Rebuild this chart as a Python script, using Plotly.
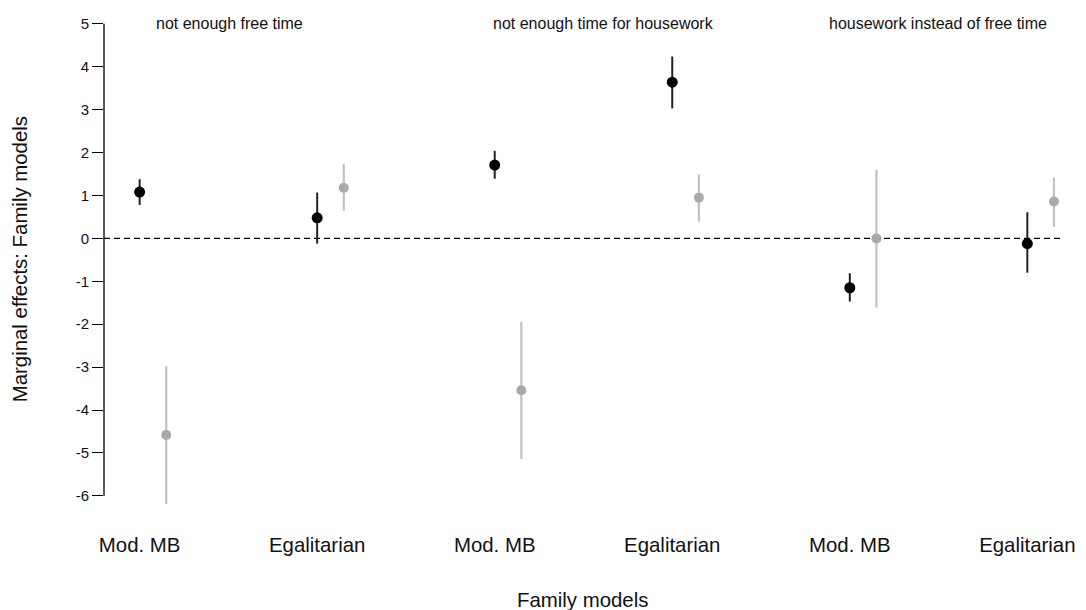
import plotly.graph_objects as go

# ---- data ----
panels = ["not enough free time", "not enough time for housework", "housework instead of free time"]
models = ["Mod. MB", "Egalitarian"]
tick_labels = ["Mod. MB", "Egalitarian", "Mod. MB", "Egalitarian", "Mod. MB", "Egalitarian"]

black_est = [1.08, 0.48, 1.71, 3.64, -1.15, -0.12]
black_lo = [0.78, -0.12, 1.39, 3.03, -1.47, -0.80]
black_hi = [1.38, 1.07, 2.04, 4.24, -0.81, 0.61]

grey_est = [-4.58, 1.18, -3.54, 0.95, 0.00, 0.86]
grey_lo = [-6.19, 0.64, -5.14, 0.39, -1.61, 0.27]
grey_hi = [-2.98, 1.74, -1.94, 1.49, 1.60, 1.42]

y_ticks = [5, 4, 3, 2, 1, 0, -1, -2, -3, -4, -5, -6]

# ---- layout helpers ----
n = len(tick_labels)
x_black = list(range(n))
offset = 0.15
x_grey = [x + offset for x in x_black]

FONT = "Liberation Sans, Arial, sans-serif"

fig = go.Figure()

fig.add_trace(go.Scatter(
    x=x_grey, y=grey_est, mode="markers",
    marker=dict(color="#a9a9a9", size=10, line=dict(width=0)),
    error_y=dict(type="data", symmetric=False,
                 array=[h - e for h, e in zip(grey_hi, grey_est)],
                 arrayminus=[e - l for e, l in zip(grey_est, grey_lo)],
                 color="#c2c2c2", thickness=2.2, width=0),
    showlegend=False, hoverinfo="skip"))

fig.add_trace(go.Scatter(
    x=x_black, y=black_est, mode="markers",
    marker=dict(color="#000000", size=11, line=dict(width=0)),
    error_y=dict(type="data", symmetric=False,
                 array=[h - e for h, e in zip(black_hi, black_est)],
                 arrayminus=[e - l for e, l in zip(black_est, black_lo)],
                 color="#222222", thickness=2, width=0),
    showlegend=False, hoverinfo="skip"))

# zero reference line
fig.add_shape(type="line", xref="paper", yref="y", x0=0, x1=1, y0=0, y1=0,
              line=dict(color="#000000", width=1.3, dash="6px,4px"), layer="below")
# y axis line only over tick range
fig.add_shape(type="line", xref="paper", yref="y", x0=0, x1=0,
              y0=min(y_ticks), y1=max(y_ticks),
              line=dict(color="#000000", width=1.3))

# panel titles
title_x = [231, 609, 947]
W, H = 1086, 610
ml, mr = 104, 16
for t, px in zip(panels, title_x):
    fig.add_annotation(text=t, xref="paper", yref="y",
                       x=(px - ml) / (W - ml - mr), y=5,
                       showarrow=False, xanchor="center", yanchor="middle",
                       font=dict(family=FONT, size=16, color="#111111"))

# axis titles
fig.add_annotation(text="Family models", xref="paper", yref="paper",
                   x=(588 - ml) / (W - ml - mr), y=0, yshift=-87,
                   showarrow=False, xanchor="center", yanchor="middle",
                   font=dict(family=FONT, size=20.4, color="#111111"))
fig.add_annotation(text="Marginal effects: Family models", xref="paper", yref="y",
                   x=(20 - ml) / (W - ml - mr), y=-0.49, textangle=-90,
                   showarrow=False, xanchor="center", yanchor="middle",
                   font=dict(family=FONT, size=20.4, color="#111111"))

fig.update_layout(
    width=W, height=H,
    margin=dict(l=ml, r=mr, t=11, b=97),
    paper_bgcolor="white", plot_bgcolor="white",
    font=dict(family=FONT, color="#111111"),
    xaxis=dict(range=[-0.2007, 5.184], tickvals=x_black, ticktext=tick_labels,
               showgrid=False, zeroline=False, showline=False,
               ticks="outside", ticklen=14, tickcolor="rgba(0,0,0,0)",
               tickfont=dict(family=FONT, size=20.4, color="#111111")),
    yaxis=dict(range=[-6.4, 5.3], tickvals=y_ticks, ticktext=[str(v) for v in y_ticks],
               showgrid=False, zeroline=False, showline=False,
               ticks="outside", ticklen=11, tickwidth=1.3, tickcolor="#000000",
               tickfont=dict(family=FONT, size=15, color="#111111")),
)

fig.write_html("out.html")
